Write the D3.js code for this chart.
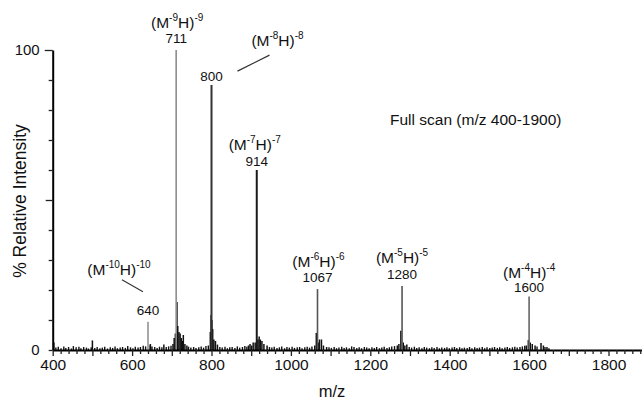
<!DOCTYPE html>
<html>
<head>
<meta charset="utf-8">
<script src="https://cdn.jsdelivr.net/npm/d3@7"></script>
<style>
  body { margin: 0; background: #fff; }
  svg { display: block; font-family: "Liberation Sans", Arial, sans-serif; }
</style>
</head>
<body>
<svg id="chart" width="642" height="402"></svg>
<script>
// main ion peaks (m/z, % relative intensity, charge)
var peakMz = [640, 711, 800, 914, 1067, 1280, 1600];
var peakInt = [9.4, 100, 88.3, 60, 20.3, 21.3, 17.8];
var peakCharge = [10, 9, 8, 7, 6, 5, 4];

// isotope / adduct clusters around the peaks
var clusterPeaks = [
  [403, 2.5], [500, 3.2], [642, 1.5], [646, 2], [650, 1.2], [680, 1.8],
  [703, 2], [706, 4], [709, 5.5], [713, 16], [715, 8], [718, 6], [721, 5.5],
  [724, 4], [727, 3], [729, 5], [733, 2], [738, 1.5],
  [797, 6], [799, 11.7], [801, 10], [803, 7], [806, 3.5], [810, 3], [815, 1.8],
  [893, 1.5], [897, 2], [901, 1.5], [905, 2.5], [910, 2.5], [917, 3.5],
  [920, 4.5], [923, 3.5], [927, 3], [932, 2], [940, 1.5],
  [1060, 1.5], [1064, 5.7], [1069, 2.5], [1072, 3.5], [1077, 3.5], [1082, 1.5], [1090, 1],
  [1268, 1.5], [1272, 2], [1277, 6.4], [1283, 2.5], [1287, 1.5], [1292, 1.8],
  [1593, 1.5], [1598, 3.3], [1603, 2.5], [1608, 2], [1615, 1.5], [1630, 2.3],
  [1636, 1.5], [1645, 1]
];

// baseline noise
var noisePeaks = [
  [408, 0.8], [414, 1.1], [421, 0.6], [428, 1.2], [433, 0.7], [440, 1.0], [447, 0.5],
  [452, 1.3], [459, 0.9], [466, 1.1], [471, 0.6], [478, 1.0], [485, 0.8], [490, 0.5],
  [497, 0.9], [506, 0.7], [512, 1.0], [519, 0.6], [525, 0.8], [531, 1.1], [538, 0.5],
  [545, 0.9], [551, 0.7], [557, 1.2], [563, 0.6], [570, 0.8], [576, 1.0], [583, 0.7],
  [589, 1.3], [596, 0.9], [602, 0.6], [608, 1.1], [615, 0.8], [621, 1.0], [628, 1.4],
  [634, 1.2], [657, 1.0], [663, 0.7], [669, 1.1], [675, 0.9], [686, 1.0], [692, 1.2],
  [698, 1.4], [742, 1.1], [748, 0.8], [755, 1.0], [761, 0.7], [768, 0.9], [774, 1.2],
  [780, 0.8], [786, 1.3], [792, 1.5], [821, 1.0], [827, 0.8], [834, 1.1], [840, 0.6],
  [846, 0.9], [852, 1.0], [859, 0.7], [865, 1.2], [871, 0.8], [878, 1.0], [884, 1.3],
  [889, 1.1], [946, 1.0], [952, 0.8], [958, 1.1], [965, 0.7], [971, 0.9], [977, 1.2],
  [984, 0.6], [990, 1.0], [996, 0.8], [1003, 1.1], [1009, 0.7], [1016, 0.9], [1022, 1.0],
  [1028, 0.6], [1035, 0.9], [1041, 1.1], [1047, 0.8], [1053, 1.2], [1096, 0.9],
  [1102, 0.7], [1109, 1.0], [1115, 0.6], [1121, 0.8], [1128, 1.1], [1134, 0.7],
  [1140, 0.9], [1147, 0.6], [1153, 1.2], [1159, 1.0], [1166, 0.7], [1172, 0.9],
  [1178, 0.6], [1185, 1.0], [1191, 0.8], [1197, 0.6], [1204, 0.9], [1210, 0.7],
  [1216, 1.0], [1223, 0.6], [1229, 0.8], [1235, 1.1], [1242, 0.7], [1248, 0.9],
  [1254, 1.2], [1261, 1.3], [1298, 1.0], [1304, 0.8], [1311, 1.1], [1317, 0.7],
  [1323, 0.9], [1330, 0.6], [1336, 1.0], [1342, 0.8], [1349, 0.6], [1355, 0.9],
  [1361, 0.7], [1368, 1.0], [1374, 0.6], [1380, 0.8], [1387, 0.7], [1393, 0.9],
  [1399, 0.6], [1406, 0.8], [1412, 1.0], [1418, 0.7], [1425, 0.9], [1431, 0.6],
  [1437, 0.8], [1444, 0.7], [1450, 1.0], [1456, 0.6], [1463, 0.9], [1469, 0.7],
  [1475, 0.8], [1482, 1.0], [1488, 0.6], [1494, 0.9], [1501, 0.7], [1507, 0.8],
  [1513, 1.0], [1520, 0.7], [1526, 0.9], [1532, 0.6], [1539, 0.8], [1545, 1.0],
  [1551, 0.7], [1558, 0.9], [1564, 1.1], [1570, 0.8], [1577, 1.0], [1583, 1.2],
  [1589, 1.4], [1620, 1.2], [1640, 1.0], [1650, 0.6]
];

var xTicks = d3.range(400, 1901, 20);
var xLabels = [400, 600, 800, 1000, 1200, 1400, 1600, 1800];
var yTicks = d3.range(0, 101, 10);
var yLabels = [0, 100];

var svg = d3.select("#chart");

var x = d3.scaleLinear().domain([400, 1900]).range([52.7, 648.2]);
var y = d3.scaleLinear().domain([0, 100]).range([350, 50]);

// peak colours and widths, one per main peak
var peakColor = ["#a8a8a8", "#8c8c8c", "#333", "#1a1a1a", "#555", "#555", "#666"];
var peakWidth = [2, 1.6, 2, 2, 1.6, 1.6, 1.6];

// label placement: dx / dy of number and ion label relative to peak top
var labelPlace = [
  {ndy: -7, ix: -29, idy: -47, lead: [[-26, -42], [-5, -30]]},
  {ndy: -7, ix: 1, idy: -22},
  {ndy: -4, ix: 66, idy: -39, lead: [[26, -14], [58, -30]]},
  {ndy: -4, ix: -2, idy: -20},
  {ndy: -7, ix: 1, idy: -22},
  {ndy: -7, ix: 0, idy: -23},
  {ndy: -5, ix: 0, idy: -19}
];

// noise sticks
svg.append("g").selectAll("line").data(noisePeaks).enter().append("line")
  .attr("x1", function(d) { return x(d[0]); })
  .attr("x2", function(d) { return x(d[0]); })
  .attr("y1", y(0))
  .attr("y2", function(d) { return y(d[1]); })
  .attr("stroke", "#111")
  .attr("stroke-width", 1.4);

// cluster sticks
svg.append("g").selectAll("line").data(clusterPeaks).enter().append("line")
  .attr("x1", function(d) { return x(d[0]); })
  .attr("x2", function(d) { return x(d[0]); })
  .attr("y1", y(0))
  .attr("y2", function(d) { return y(d[1]); })
  .attr("stroke", "#111")
  .attr("stroke-width", 1.5);

// main peaks
svg.append("g").selectAll("line").data(peakMz).enter().append("line")
  .attr("x1", function(d) { return x(d); })
  .attr("x2", function(d) { return x(d); })
  .attr("y1", y(0))
  .attr("y2", function(d, i) { return y(peakInt[i]); })
  .attr("stroke", function(d, i) { return peakColor[i]; })
  .attr("stroke-width", function(d, i) { return peakWidth[i]; });

// axes
var xAxis = d3.axisBottom(x)
  .tickValues(xTicks)
  .tickSizeOuter(0)
  .tickFormat(function(d) { return xLabels.indexOf(d) >= 0 ? d : ""; });

var gx = svg.append("g").attr("transform", "translate(0," + y(0) + ")").call(xAxis);
gx.select(".domain").attr("stroke", "#000").attr("stroke-width", 2);
gx.selectAll(".tick line")
  .attr("stroke", "#222")
  .attr("stroke-width", 1.3)
  .attr("y2", function(d) { return d % 100 === 0 ? 6 : 4; });
gx.selectAll(".tick text")
  .attr("y", 9)
  .attr("font-size", 15.5)
  .attr("font-family", "Liberation Sans, Arial, sans-serif")
  .attr("fill", "#111");

var yAxis = d3.axisLeft(y)
  .tickValues(yTicks)
  .tickSizeOuter(0)
  .tickFormat(function(d) { return yLabels.indexOf(d) >= 0 ? d : ""; });

var gy = svg.append("g").attr("transform", "translate(" + x(400) + ",0)").call(yAxis);
gy.select(".domain").attr("stroke", "#000").attr("stroke-width", 2);
gy.selectAll(".tick line")
  .attr("stroke", "#222")
  .attr("stroke-width", 1.3)
  .attr("x2", function(d) { return d === 100 ? -8 : (d === 50 ? -7 : -4); });
gy.selectAll(".tick text")
  .attr("x", -13)
  .attr("font-size", 15)
  .attr("font-family", "Liberation Sans, Arial, sans-serif")
  .attr("fill", "#111");

// axis titles
svg.append("text")
  .attr("x", 332)
  .attr("y", 397)
  .attr("text-anchor", "middle")
  .attr("font-size", 16.5)
  .attr("fill", "#111")
  .text("m/z");

svg.append("text")
  .attr("transform", "translate(26,201) rotate(-90)")
  .attr("text-anchor", "middle")
  .attr("font-size", 17.5)
  .attr("fill", "#111")
  .text("% Relative Intensity");

svg.append("text")
  .attr("x", 390)
  .attr("y", 125)
  .attr("font-size", 15.5)
  .attr("fill", "#111")
  .text("Full scan (m/z 400-1900)");

// peak labels
var labels = svg.append("g").attr("fill", "#111");

peakMz.forEach(function(mz, i) {
  var px = x(mz);
  var top = y(peakInt[i]);
  var pl = labelPlace[i];
  var z = "-" + peakCharge[i];

  labels.append("text")
    .attr("x", px)
    .attr("y", top + pl.ndy)
    .attr("text-anchor", "middle")
    .attr("font-size", 13.5)
    .text(mz);

  var t = labels.append("text")
    .attr("x", px + pl.ix)
    .attr("y", top + pl.idy)
    .attr("text-anchor", "middle")
    .attr("font-size", 15.5);
  t.append("tspan").text("(M");
  t.append("tspan").attr("font-size", 10).attr("dy", -7).text(z);
  t.append("tspan").attr("dy", 7).text("H)");
  t.append("tspan").attr("font-size", 10).attr("dy", -7).text(z);

  if (pl.lead) {
    labels.append("line")
      .attr("x1", px + pl.lead[0][0])
      .attr("y1", top + pl.lead[0][1])
      .attr("x2", px + pl.lead[1][0])
      .attr("y2", top + pl.lead[1][1])
      .attr("stroke", "#333")
      .attr("stroke-width", 1.2);
  }
});
</script>
</body>
</html>
